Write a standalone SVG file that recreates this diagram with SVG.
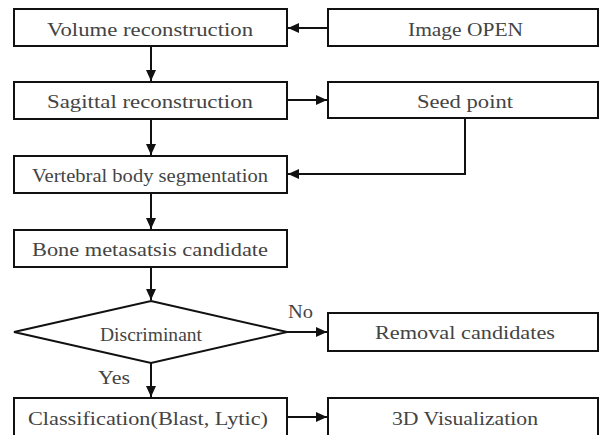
<svg xmlns="http://www.w3.org/2000/svg" width="600" height="435" viewBox="0 0 600 435">
<defs>
<style>
.box{fill:#fff;stroke:#111;stroke-width:2}
.t{font-family:'Liberation Serif','DejaVu Serif',serif;font-size:18px;fill:#444}
.c{fill:none;stroke:#111;stroke-width:2}
</style>
<marker id="ah" markerUnits="userSpaceOnUse" markerWidth="12" markerHeight="10" refX="11" refY="5" orient="auto">
<path d="M0,0 L11,5 L0,10 Z" fill="#111"/>
</marker>
</defs>
<rect width="600" height="435" fill="#fff"/>
<g id="connectors">
<path class="c" d="M328,28 H288" marker-end="url(#ah)"/>
<path class="c" d="M151,46 V81" marker-end="url(#ah)"/>
<path class="c" d="M287,100 H327" marker-end="url(#ah)"/>
<path class="c" d="M151,119 V155" marker-end="url(#ah)"/>
<path class="c" d="M465,118 V174 H288" marker-end="url(#ah)"/>
<path class="c" d="M151,193 V229" marker-end="url(#ah)"/>
<path class="c" d="M151,267 V300" marker-end="url(#ah)"/>
<path class="c" d="M287,332 H327" marker-end="url(#ah)"/>
<path class="c" d="M151,363 V397" marker-end="url(#ah)"/>
<path class="c" d="M287,417 H327" marker-end="url(#ah)"/>
<text class="t" x="288" y="318" textLength="25" lengthAdjust="spacingAndGlyphs">No</text>
<text class="t" x="98" y="384" textLength="32" lengthAdjust="spacingAndGlyphs">Yes</text>
</g>
<g id="volume">
<rect class="box" x="14" y="9" width="273" height="37"/>
<text class="t" x="47" y="36" textLength="206" lengthAdjust="spacingAndGlyphs">Volume reconstruction</text>
</g>
<g id="image-open">
<rect class="box" x="328" y="9" width="270" height="37"/>
<text class="t" x="408" y="36" textLength="115" lengthAdjust="spacingAndGlyphs">Image OPEN</text>
</g>
<g id="sagittal">
<rect class="box" x="14" y="82" width="273" height="37"/>
<text class="t" x="47" y="108" textLength="206" lengthAdjust="spacingAndGlyphs">Sagittal reconstruction</text>
</g>
<g id="seed">
<rect class="box" x="328" y="82" width="270" height="36"/>
<text class="t" x="417" y="108" textLength="96" lengthAdjust="spacingAndGlyphs">Seed point</text>
</g>
<g id="vertebral">
<rect class="box" x="14" y="156" width="273" height="37"/>
<text class="t" x="32" y="182" textLength="236" lengthAdjust="spacingAndGlyphs">Vertebral body segmentation</text>
</g>
<g id="bone">
<rect class="box" x="14" y="230" width="273" height="37"/>
<text class="t" x="32" y="256" textLength="236" lengthAdjust="spacingAndGlyphs">Bone metasatsis candidate</text>
</g>
<g id="discriminant">
<path class="box" d="M151,301 L287,332 L151,363 L14,332 Z"/>
<text class="t" x="100" y="341" textLength="102" lengthAdjust="spacingAndGlyphs">Discriminant</text>
</g>
<g id="removal">
<rect class="box" x="328" y="313" width="270" height="38"/>
<text class="t" x="375" y="339" textLength="180" lengthAdjust="spacingAndGlyphs">Removal candidates</text>
</g>
<g id="classification">
<rect class="box" x="14" y="398" width="273" height="45"/>
<text class="t" x="28" y="425" textLength="240" lengthAdjust="spacingAndGlyphs">Classification(Blast, Lytic)</text>
</g>
<g id="visualization">
<rect class="box" x="328" y="398" width="270" height="45"/>
<text class="t" x="392" y="425" textLength="146" lengthAdjust="spacingAndGlyphs">3D Visualization</text>
</g>
</svg>
